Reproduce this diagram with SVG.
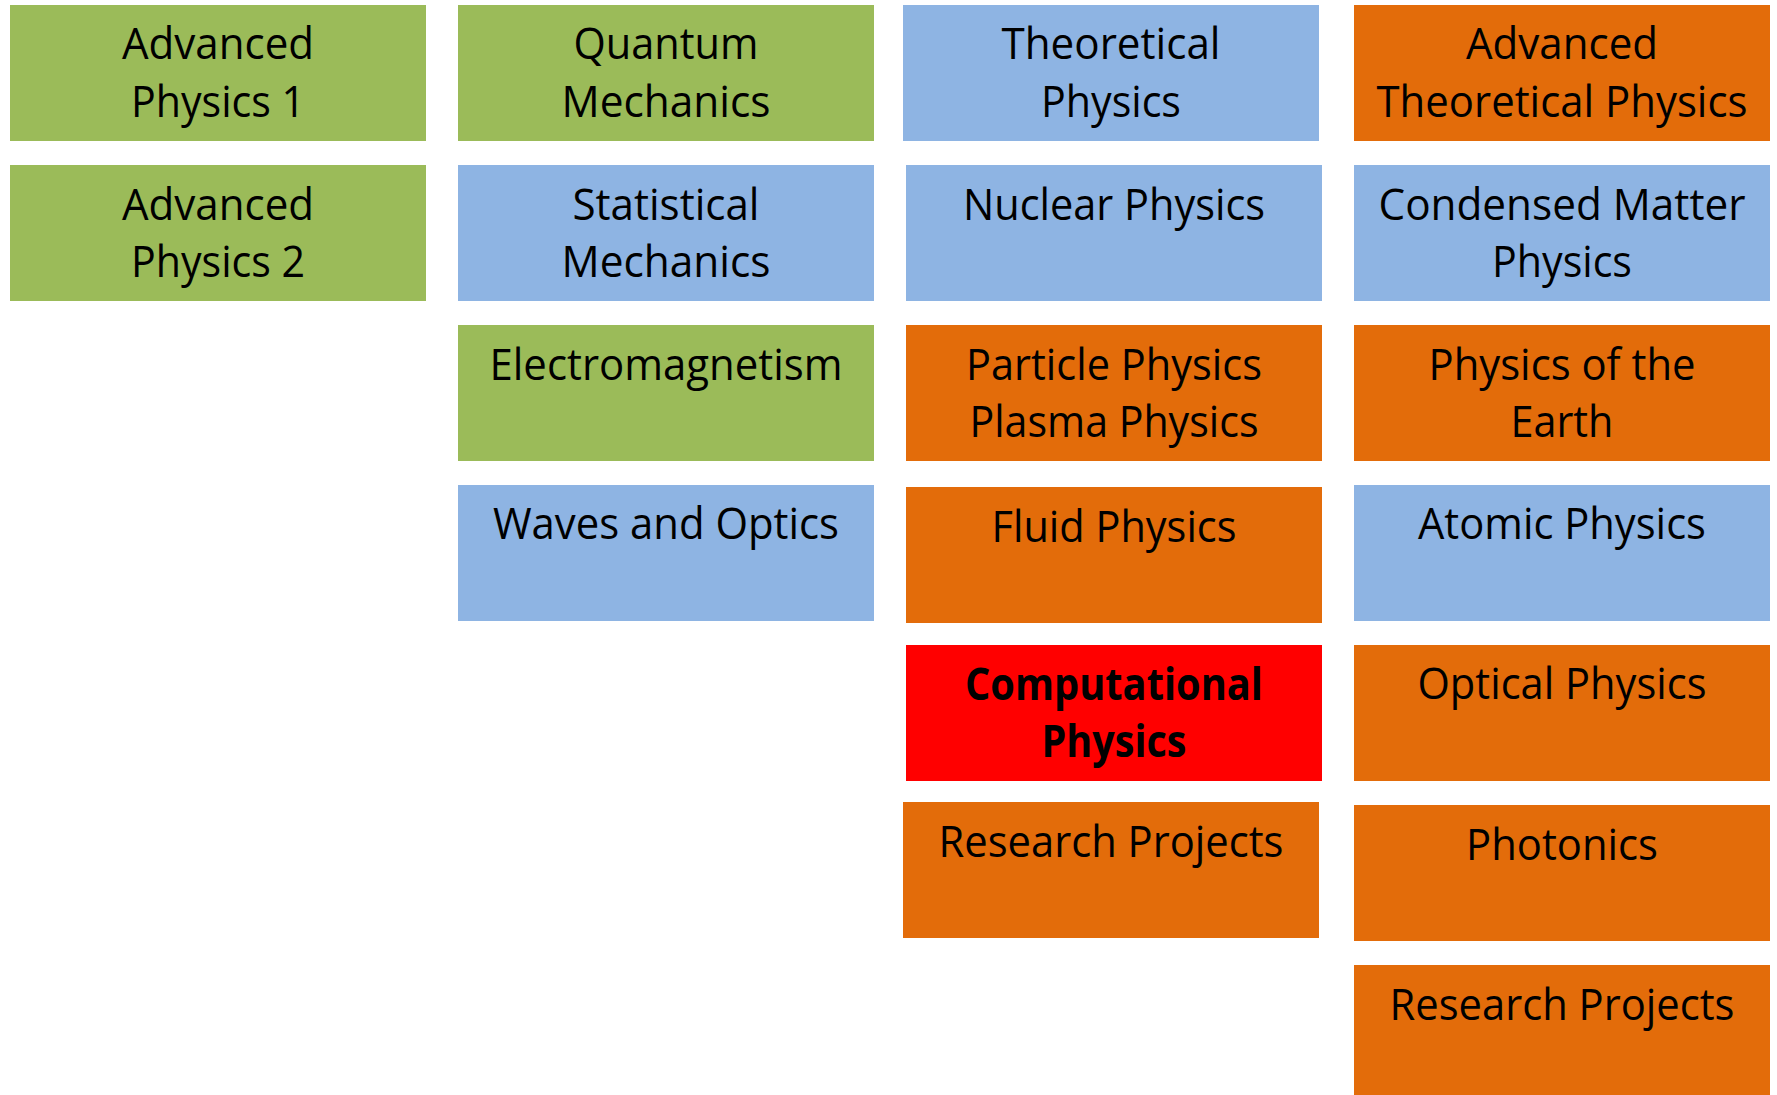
<svg xmlns="http://www.w3.org/2000/svg" width="1777" height="1095" viewBox="0 0 1777 1095">
<style>
.g{fill:#9BBB59}.b{fill:#8EB4E3}.o{fill:#E36C0A}.r{fill:#FF0000}
text{font-family:"Open Sans","Noto Sans","Liberation Sans",sans-serif;font-size:44px;fill:#000;text-anchor:middle}
.bold{font-weight:bold}
</style>
<rect width="1777" height="1095" fill="#fff"/>
<g id="advanced-physics-1"><rect class="g" x="10" y="5" width="416" height="136"/><text x="218" y="59" textLength="192" lengthAdjust="spacingAndGlyphs">Advanced</text><text x="218" y="117" textLength="174" lengthAdjust="spacingAndGlyphs">Physics 1</text></g>
<g id="advanced-physics-2"><rect class="g" x="10" y="165" width="416" height="136"/><text x="218" y="220" textLength="192" lengthAdjust="spacingAndGlyphs">Advanced</text><text x="218" y="277" textLength="174" lengthAdjust="spacingAndGlyphs">Physics 2</text></g>
<g id="quantum-mechanics"><rect class="g" x="458" y="5" width="416" height="136"/><text x="666" y="59" textLength="185" lengthAdjust="spacingAndGlyphs">Quantum</text><text x="666" y="117" textLength="209" lengthAdjust="spacingAndGlyphs">Mechanics</text></g>
<g id="statistical-mechanics"><rect class="b" x="458" y="165" width="416" height="136"/><text x="666" y="220" textLength="187" lengthAdjust="spacingAndGlyphs">Statistical</text><text x="666" y="277" textLength="209" lengthAdjust="spacingAndGlyphs">Mechanics</text></g>
<g id="electromagnetism"><rect class="g" x="458" y="325" width="416" height="136"/><text x="666" y="380" textLength="353" lengthAdjust="spacingAndGlyphs">Electromagnetism</text></g>
<g id="waves-and-optics"><rect class="b" x="458" y="485" width="416" height="136"/><text x="666" y="539" textLength="346" lengthAdjust="spacingAndGlyphs">Waves and Optics</text></g>
<g id="theoretical-physics"><rect class="b" x="903" y="5" width="416" height="136"/><text x="1111" y="59" textLength="219" lengthAdjust="spacingAndGlyphs">Theoretical</text><text x="1111" y="117" textLength="140" lengthAdjust="spacingAndGlyphs">Physics</text></g>
<g id="nuclear-physics"><rect class="b" x="906" y="165" width="416" height="136"/><text x="1114" y="220" textLength="302" lengthAdjust="spacingAndGlyphs">Nuclear Physics</text></g>
<g id="particle-plasma-physics"><rect class="o" x="906" y="325" width="416" height="136"/><text x="1114" y="380" textLength="296" lengthAdjust="spacingAndGlyphs">Particle Physics</text><text x="1114" y="437" textLength="289" lengthAdjust="spacingAndGlyphs">Plasma Physics</text></g>
<g id="fluid-physics"><rect class="o" x="906" y="487" width="416" height="136"/><text x="1114" y="542" textLength="245" lengthAdjust="spacingAndGlyphs">Fluid Physics</text></g>
<g id="computational-physics"><rect class="r" x="906" y="645" width="416" height="136"/><text class="bold" x="1114" y="700" textLength="298" lengthAdjust="spacingAndGlyphs">Computational</text><text class="bold" x="1114" y="757" textLength="145" lengthAdjust="spacingAndGlyphs">Physics</text></g>
<g id="research-projects-1"><rect class="o" x="903" y="802" width="416" height="136"/><text x="1111" y="857" textLength="345" lengthAdjust="spacingAndGlyphs">Research Projects</text></g>
<g id="advanced-theoretical-physics"><rect class="o" x="1354" y="5" width="416" height="136"/><text x="1562" y="59" textLength="192" lengthAdjust="spacingAndGlyphs">Advanced</text><text x="1562" y="117" textLength="371" lengthAdjust="spacingAndGlyphs">Theoretical Physics</text></g>
<g id="condensed-matter-physics"><rect class="b" x="1354" y="165" width="416" height="136"/><text x="1562" y="220" textLength="367" lengthAdjust="spacingAndGlyphs">Condensed Matter</text><text x="1562" y="277" textLength="140" lengthAdjust="spacingAndGlyphs">Physics</text></g>
<g id="physics-of-the-earth"><rect class="o" x="1354" y="325" width="416" height="136"/><text x="1562" y="380" textLength="267" lengthAdjust="spacingAndGlyphs">Physics of the</text><text x="1562" y="437" textLength="103" lengthAdjust="spacingAndGlyphs">Earth</text></g>
<g id="atomic-physics"><rect class="b" x="1354" y="485" width="416" height="136"/><text x="1562" y="539" textLength="288" lengthAdjust="spacingAndGlyphs">Atomic Physics</text></g>
<g id="optical-physics"><rect class="o" x="1354" y="645" width="416" height="136"/><text x="1562" y="699" textLength="289" lengthAdjust="spacingAndGlyphs">Optical Physics</text></g>
<g id="photonics"><rect class="o" x="1354" y="805" width="416" height="136"/><text x="1562" y="860" textLength="192" lengthAdjust="spacingAndGlyphs">Photonics</text></g>
<g id="research-projects-2"><rect class="o" x="1354" y="965" width="416" height="136"/><text x="1562" y="1020" textLength="345" lengthAdjust="spacingAndGlyphs">Research Projects</text></g>
<g id="connectors"/>
</svg>
